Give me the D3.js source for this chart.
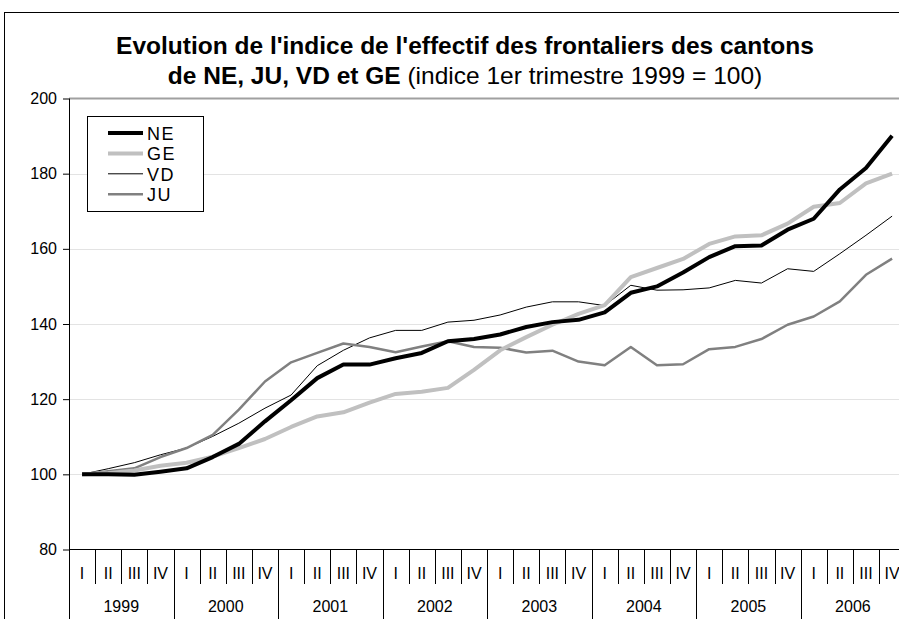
<!DOCTYPE html>
<html>
<head>
<meta charset="utf-8">
<script src="https://cdn.jsdelivr.net/npm/d3@7/dist/d3.min.js"></script>
<style>
  html, body { margin: 0; padding: 0; background: #fff; overflow: hidden; }
  svg { display: block; font-family: "Liberation Sans", Arial, sans-serif; }
</style>
</head>
<body>
<svg id="chart" width="899" height="619"></svg>
<script>
const years = ["1999", "2000", "2001", "2002", "2003", "2004", "2005", "2006"];
const quarters = ["I", "II", "III", "IV"];
const yTicks = [80, 100, 120, 140, 160, 180, 200];

const NE = [100, 100, 99.9, 100.7, 101.6, 104.6, 108.1, 114.1, 119.7, 125.6, 129.2, 129.2,
            130.9, 132.3, 135.4, 136.0, 137.2, 139.2, 140.5, 141.1, 143.1, 148.3, 150.0, 153.7,
            157.8, 160.7, 160.9, 165.1, 168.0, 175.8, 181.5, 190.1];
const GE = [100, 100.3, 101.0, 102.3, 103.1, 104.7, 107.0, 109.4, 112.6, 115.4, 116.5, 119.1,
            121.4, 122.0, 123.0, 127.8, 133.0, 136.5, 139.8, 142.7, 145.0, 152.5, 154.9, 157.3,
            161.3, 163.3, 163.6, 166.7, 171.2, 172.2, 177.4, 180.0];
const VD = [100, 101.5, 103.1, 105.2, 107.0, 110.1, 113.6, 117.6, 121.1, 128.9, 133.0, 136.3,
            138.3, 138.3, 140.5, 141.0, 142.4, 144.5, 145.9, 145.9, 144.9, 150.3, 149.0, 149.1,
            149.6, 151.6, 150.9, 154.7, 154.0, 158.7, 163.6, 168.7];
const JU = [100, 100.8, 101.6, 104.6, 107.0, 110.5, 117.2, 124.7, 129.8, 132.3, 134.8, 133.9,
            132.5, 134.0, 135.4, 133.9, 133.7, 132.4, 132.9, 130.0, 129.0, 133.9, 129.0, 129.3,
            133.3, 133.9, 136.0, 139.8, 142.0, 146.0, 153.1, 157.4];

const seriesNames = ["NE", "GE", "VD", "JU"];
const seriesData = { NE, GE, VD, JU };
const seriesStyle = {
  NE: { color: "#000000", width: 4 },
  GE: { color: "#c0c0c0", width: 4 },
  VD: { color: "#000000", width: 1 },
  JU: { color: "#808080", width: 2.5 }
};

const categories = [];
years.forEach(y => quarters.forEach(q => categories.push(y + "-" + q)));

const svg = d3.select("#chart");
const left = 69, catW = 26.13;
const x = d3.scaleBand().domain(categories).range([left, left + catW * categories.length]);
const y = d3.scaleLinear().domain([80, 200]).range([549.5, 98.5]);
const right = left + catW * categories.length;

// outer chart border
svg.append("rect").attr("x", 4.5).attr("y", 12.5).attr("width", 1000).attr("height", 1000)
  .attr("fill", "none").attr("stroke", "#000").attr("stroke-width", 1);

// gridlines
svg.append("g").selectAll("line").data(yTicks.filter(t => t > 80 && t < 200)).join("line")
  .attr("x1", left).attr("x2", right)
  .attr("y1", d => Math.round(y(d)) + 0.5).attr("y2", d => Math.round(y(d)) + 0.5)
  .attr("stroke", "#e3e3e3").attr("stroke-width", 1);

// plot area top border (gray)
svg.append("line").attr("x1", left).attr("x2", right)
  .attr("y1", y(200)).attr("y2", y(200)).attr("stroke", "#a0a0a0").attr("stroke-width", 2);

// y axis
const yAxis = d3.axisLeft(y).tickValues(yTicks).tickSize(6).tickPadding(6).tickFormat(d3.format("d"));
const gy = svg.append("g").attr("transform", `translate(${left},0)`).call(yAxis);
gy.select(".domain").remove();
gy.selectAll(".tick line").attr("stroke", "#000");
gy.selectAll(".tick text").attr("font-size", 16).attr("fill", "#000")
  .attr("font-family", '"Liberation Sans", Arial, sans-serif');
svg.append("line").attr("x1", left + 0.5).attr("x2", left + 0.5).attr("y1", y(200)).attr("y2", 619)
  .attr("stroke", "#000").attr("stroke-width", 1);

// x axis line
svg.append("line").attr("x1", left).attr("x2", right).attr("y1", 549.5).attr("y2", 549.5)
  .attr("stroke", "#000").attr("stroke-width", 1);

// category separators
const gx = svg.append("g");
categories.forEach((c, i) => {
  if (i === 0) return;
  const xx = Math.round(x(c)) + 0.5;
  const isYear = i % 4 === 0;
  gx.append("line").attr("x1", xx).attr("x2", xx).attr("y1", 549.5).attr("y2", isYear ? 619 : 584)
    .attr("stroke", "#000").attr("stroke-width", 1);
});
gx.selectAll("text.q").data(categories).join("text").attr("class", "q")
  .attr("x", d => x(d) + x.bandwidth() / 2).attr("y", 578.5)
  .attr("text-anchor", "middle").attr("font-size", 16).attr("fill", "#000")
  .text(d => d.split("-")[1]);
gx.selectAll("text.yr").data(years).join("text").attr("class", "yr")
  .attr("x", d => x(d + "-I") + 2 * x.bandwidth()).attr("y", 611.5)
  .attr("text-anchor", "middle").attr("font-size", 16).attr("fill", "#000")
  .text(d => d);

// lines
const line = d3.line().x((d, i) => x(categories[i]) + x.bandwidth() / 2).y(d => y(d));
["VD", "JU", "GE", "NE"].forEach(name => {
  svg.append("path").datum(seriesData[name]).attr("d", line)
    .attr("fill", "none").attr("stroke", seriesStyle[name].color)
    .attr("stroke-width", seriesStyle[name].width).attr("stroke-linejoin", "round");
});

// legend
const lg = svg.append("g");
lg.append("rect").attr("x", 87.5).attr("y", 116.5).attr("width", 116).attr("height", 95)
  .attr("fill", "#fff").attr("stroke", "#000").attr("stroke-width", 1);
seriesNames.forEach((name, i) => {
  const by = 140 + i * 20.4;
  lg.append("line").attr("x1", 108).attr("x2", 143).attr("y1", by - 7).attr("y2", by - 7)
    .attr("stroke", seriesStyle[name].color).attr("stroke-width", seriesStyle[name].width);
  lg.append("text").attr("x", 147).attr("y", by).attr("font-size", 18)
    .attr("letter-spacing", 1.5).attr("fill", "#000").text(name);
});

// title
const t = svg.append("g").attr("fill", "#000");
t.append("text").attr("x", 465).attr("y", 54).attr("text-anchor", "middle")
  .attr("font-size", 24.5).attr("font-weight", "bold")
  .text("Evolution de l'indice de l'effectif des frontaliers des cantons");
const t2 = t.append("text").attr("x", 465).attr("y", 84).attr("text-anchor", "middle").attr("font-size", 24.5);
t2.append("tspan").attr("font-weight", "bold").text("de NE, JU, VD et GE");
t2.append("tspan").text(" (indice 1er trimestre 1999 = 100)");
</script>
</body>
</html>
